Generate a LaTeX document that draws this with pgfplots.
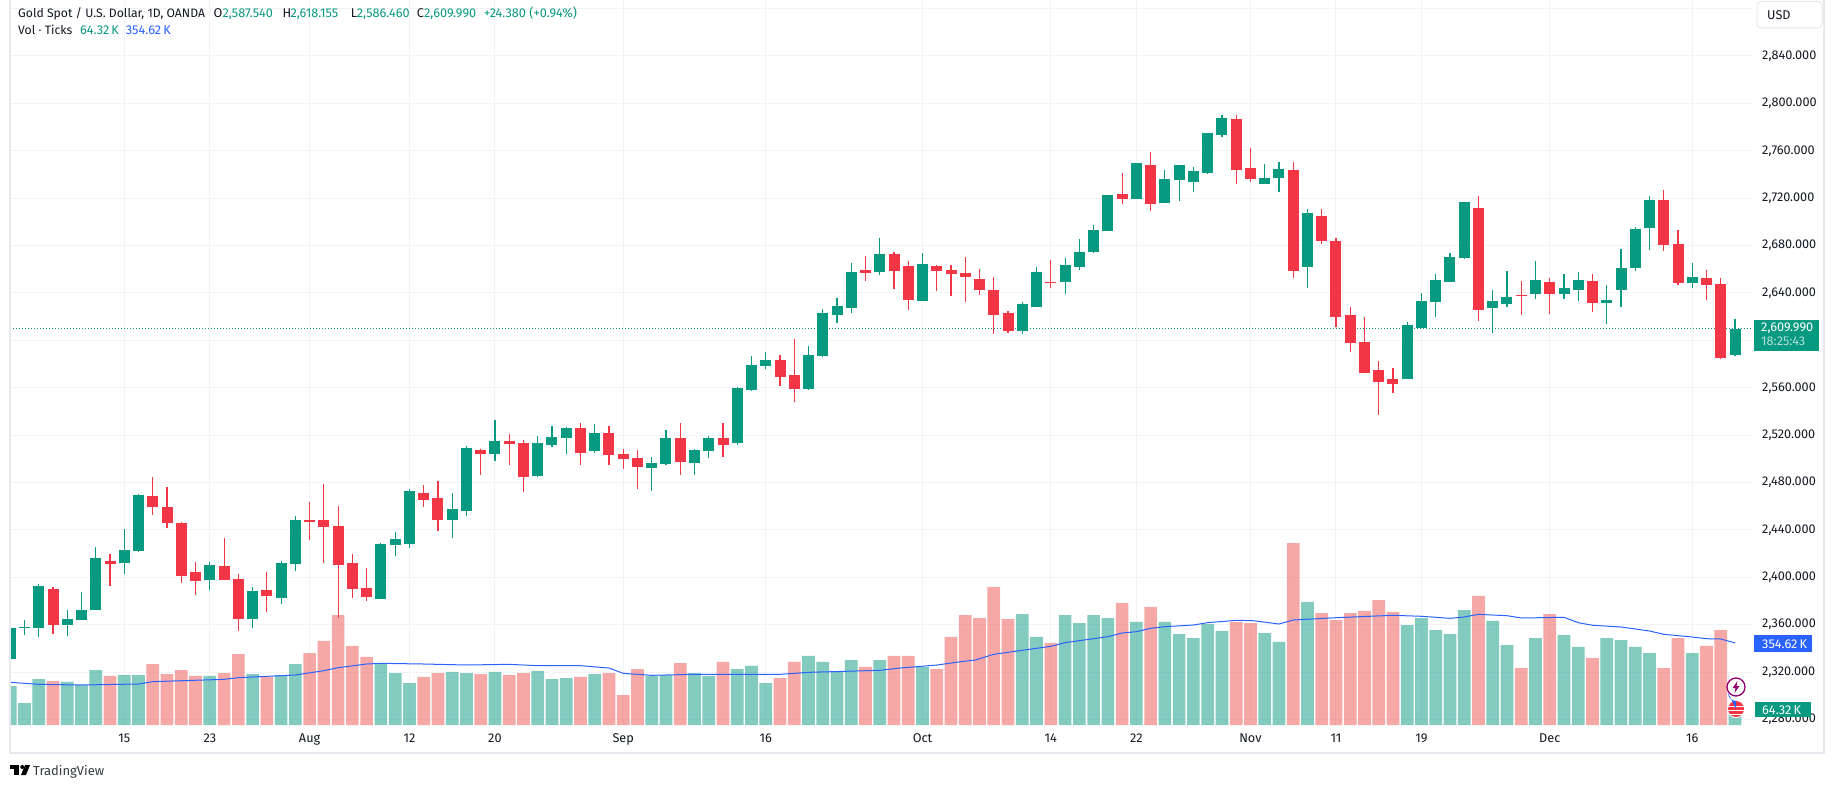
\documentclass[border=0pt]{standalone}
\usepackage{fontspec}
\setmainfont{Fira Sans}
\usepackage{pgfplots}
\usepackage{pgfplotstable}
\pgfplotsset{compat=1.18}

\definecolor{upc}{HTML}{089981}
\definecolor{downc}{HTML}{F23645}
\definecolor{volup}{HTML}{089981}
\definecolor{voldown}{HTML}{EF5350}
\definecolor{gridc}{HTML}{F2F3F5}
\definecolor{framec}{HTML}{E8E9EE}
\definecolor{bluec}{HTML}{2962FF}
\definecolor{textc}{HTML}{131722}

% i open high low close volume(K)
\pgfplotstableread{
i o h l c v
0 2331.1 2366.5 2328.8 2357.2 168.5
1 2357.2 2364.0 2351.3 2358.1 95.0
2 2357.2 2394.4 2349.6 2392.7 198.7
4 2359.8 2372.4 2350.5 2364.8 185.8
5 2364.0 2387.6 2364.0 2372.4 172.8
6 2372.4 2425.6 2372.4 2416.3 237.6
8 2412.1 2440.8 2402.8 2423.1 216.0
9 2422.2 2470.3 2421.4 2469.5 216.0
14 2397.7 2412.9 2389.3 2410.4 211.7
17 2364.8 2391.8 2357.2 2388.5 220.3
19 2382.5 2413.8 2377.5 2412.1 216.0
20 2411.2 2451.8 2405.3 2448.4 263.5
26 2381.7 2429.0 2381.7 2428.1 263.5
27 2427.3 2438.3 2418.0 2432.3 224.6
28 2428.1 2474.5 2424.8 2472.9 181.4
31 2448.4 2471.2 2433.2 2457.7 229.0
32 2456.0 2510.8 2451.8 2509.2 224.6
34 2504.1 2532.8 2498.2 2515.1 229.0
37 2485.5 2519.3 2484.7 2513.4 233.3
38 2511.7 2527.7 2510.0 2518.4 198.7
39 2517.6 2526.9 2504.1 2526.0 203.0
41 2506.6 2529.4 2504.9 2521.8 220.3
45 2492.3 2501.6 2472.9 2496.5 211.7
46 2495.6 2524.4 2494.8 2517.6 216.0
48 2496.5 2508.3 2486.4 2507.5 224.6
49 2506.6 2519.3 2500.7 2517.6 211.7
51 2513.4 2560.6 2511.7 2559.8 241.9
52 2558.1 2586.8 2557.3 2579.2 254.9
53 2578.4 2590.2 2575.8 2583.4 181.4
56 2559.0 2595.2 2558.1 2587.6 298.1
57 2586.8 2626.5 2586.0 2623.1 272.2
58 2621.4 2635.8 2614.7 2629.0 229.0
59 2627.3 2665.3 2623.1 2657.7 280.8
61 2657.7 2686.4 2655.2 2672.9 280.8
64 2633.2 2673.7 2633.2 2664.5 250.6
71 2607.9 2632.4 2605.4 2630.7 479.5
72 2628.2 2661.9 2628.2 2657.7 380.2
74 2649.3 2669.5 2639.1 2663.6 475.2
75 2661.9 2685.6 2659.4 2674.6 440.6
76 2674.6 2697.4 2673.7 2693.2 475.2
77 2692.3 2722.7 2692.3 2722.7 462.2
79 2719.3 2749.7 2719.3 2749.7 445.0
81 2715.9 2743.8 2715.9 2736.2 445.0
82 2735.4 2748.0 2717.6 2748.0 393.1
83 2733.7 2746.3 2725.2 2742.9 375.8
84 2741.3 2775.0 2740.4 2775.0 436.3
85 2773.3 2790.2 2771.6 2787.7 406.1
88 2732.0 2748.9 2732.0 2737.0 397.4
89 2737.0 2750.5 2725.2 2744.6 358.6
91 2661.9 2710.9 2644.2 2707.5 531.4
98 2567.4 2615.5 2567.4 2613.0 432.0
99 2610.4 2640.0 2610.4 2633.2 462.2
100 2632.4 2656.0 2619.7 2651.0 410.4
101 2649.3 2673.7 2649.3 2670.4 393.1
102 2669.5 2716.8 2668.7 2716.8 496.8
104 2627.3 2642.5 2606.2 2633.2 449.3
105 2630.7 2658.5 2628.2 2636.6 345.6
107 2639.1 2667.0 2634.9 2651.0 375.8
109 2639.1 2656.0 2634.9 2644.2 388.8
110 2642.5 2657.7 2633.2 2651.0 337.0
112 2631.5 2646.7 2613.8 2634.1 375.8
113 2642.5 2677.1 2628.2 2661.1 367.2
114 2661.1 2695.7 2658.5 2694.0 337.0
115 2694.8 2721.8 2676.3 2718.5 311.0
118 2648.4 2665.3 2644.2 2653.5 311.0
121 2587.54 2618.155 2586.46 2609.99 64.32
}\upcandles

\pgfplotstableread{
i o h l c v
3 2390.1 2391.8 2352.2 2359.8 190.1
7 2413.8 2419.7 2392.7 2411.2 211.7
10 2468.6 2484.7 2452.6 2459.4 263.5
11 2459.4 2476.2 2441.6 2445.9 220.3
12 2445.9 2446.7 2395.2 2401.1 237.6
13 2404.5 2412.9 2385.1 2396.9 211.7
15 2409.6 2433.2 2397.7 2397.7 224.6
16 2398.6 2402.8 2354.7 2364.8 306.7
18 2389.3 2404.5 2370.7 2384.2 207.4
21 2448.4 2463.6 2431.5 2446.7 311.0
22 2448.4 2478.8 2412.1 2442.5 362.9
23 2443.3 2460.2 2365.7 2410.4 475.2
24 2412.1 2419.7 2382.5 2390.1 341.3
25 2391.0 2407.9 2380.0 2383.4 293.8
29 2471.2 2477.9 2459.4 2465.3 207.4
30 2467.0 2481.3 2439.1 2448.4 224.6
33 2507.5 2508.3 2486.4 2504.1 220.3
35 2515.1 2521.0 2494.8 2512.5 216.0
36 2513.4 2515.9 2472.0 2484.7 224.6
40 2526.0 2530.3 2494.8 2504.9 207.4
42 2521.8 2527.7 2494.8 2503.2 224.6
43 2504.1 2508.3 2491.4 2499.9 129.6
44 2500.7 2507.5 2474.5 2493.1 241.9
47 2517.6 2530.3 2486.4 2497.3 267.8
50 2517.6 2530.3 2501.6 2511.7 272.2
54 2583.4 2587.7 2561.5 2569.1 203.0
55 2570.8 2601.2 2548.0 2559.0 272.2
60 2659.4 2671.2 2650.1 2656.9 250.6
62 2672.9 2674.6 2643.4 2658.5 298.1
63 2662.8 2667.0 2625.6 2634.1 298.1
65 2662.8 2663.6 2641.7 2658.5 241.9
66 2659.4 2663.6 2637.4 2656.0 380.2
67 2656.9 2670.4 2632.4 2653.5 475.2
68 2651.8 2660.2 2638.3 2642.5 462.2
69 2642.5 2653.5 2605.4 2621.4 596.2
70 2623.1 2624.8 2606.2 2607.9 457.9
73 2649.3 2667.8 2644.2 2648.4 354.2
78 2723.5 2741.3 2715.1 2719.3 527.0
80 2748.0 2759.0 2709.2 2715.1 509.8
86 2786.8 2790.2 2732.0 2743.8 445.0
87 2745.5 2762.4 2733.7 2736.2 440.6
90 2743.8 2750.5 2652.6 2658.5 786.2
92 2705.0 2710.9 2681.3 2683.9 483.8
93 2683.9 2686.4 2611.3 2619.7 453.6
94 2621.4 2628.2 2590.2 2597.8 483.8
95 2598.6 2619.7 2572.5 2572.5 492.5
96 2575.0 2582.6 2537.0 2564.9 540.0
97 2567.4 2576.7 2555.6 2563.2 488.2
103 2711.7 2721.8 2616.3 2625.6 557.3
106 2638.3 2650.1 2621.4 2637.4 246.2
108 2649.3 2652.6 2622.3 2639.1 479.5
111 2650.1 2656.0 2623.9 2631.5 289.4
116 2718.5 2726.9 2675.4 2680.5 246.2
117 2681.3 2693.2 2646.7 2648.4 375.8
119 2652.6 2659.4 2634.1 2646.7 341.3
120 2647.6 2652.6 2584.3 2585.1 410.4
}\downcandles

\pgfplotsset{
  chartpane/.style={
    at={(10pt,63pt)}, anchor=south west, scale only axis,
    width=1743pt, height=725pt,
    xmin=-0.02, xmax=122.26,
  },
  pricepane/.style={chartpane, ymin=2275.35, ymax=2887.27},
}
\newcommand{\pxfont}{\fontsize{12.7}{15}\selectfont}
\newcommand{\namefont}{\fontsize{12.2}{15}\selectfont}

\begin{document}
\begin{tikzpicture}
\fill[white] (0,0) rectangle (1835pt,788pt);
\path[use as bounding box] (0,0) rectangle (1835pt,788pt);

% grid and tick labels; 2600 and 2880 sit behind the price tag and the USD button
\begin{axis}[
  pricepane,
  axis line style={draw=none},
  major tick length=0pt,
  grid=major,
  grid style={gridc, line width=1pt},
  xtick={8,14,21,28,34,43,53,64,73,79,87,93,99,108,118},
  xticklabels={15,23,Aug,12,20,Sep,16,Oct,14,22,Nov,11,19,Dec,16},
  xticklabel style={font=\pxfont, text=textc, inner sep=0pt, anchor=north, yshift=-8pt, text height=9pt, text depth=0pt},
  ytick={2280,2320,2360,2400,2440,2480,2520,2560,2640,2680,2720,2760,2800,2840},
  extra y ticks={2600,2880},
  extra y tick labels={},
  extra y tick style={grid=major, grid style={gridc, line width=1pt}},
  yticklabel pos=right,
  yticklabel style={
    font=\pxfont, text=textc, inner sep=0pt, anchor=west, xshift=9pt,
    /pgf/number format/.cd, fixed, fixed zerofill, precision=3, 1000 sep={,}, assume math mode=true
  },
]
\end{axis}

% volume and its moving average
\begin{axis}[chartpane, hide axis, ymin=0, ymax=3132, ybar, bar width=12.7pt, bar shift=0pt]
\addplot[draw=none, fill=volup, fill opacity=0.5] table[x=i, y=v] {\upcandles};
\addplot[draw=none, fill=voldown, fill opacity=0.5] table[x=i, y=v] {\downcandles};
\addplot[sharp plot, bluec, line width=1pt, mark=none, line join=round] coordinates {
(0,184.3) (2,175.7) (5,172.8) (9,177.1) (10,187.2) (15,197.3) (16,204.5) (20,216.0)
(22,234.7) (23,247.7) (25,263.5) (26,266.4) (29,263.5) (32,259.2) (35,262.1) (37,256.3)
(40,256.3) (42,246.2) (43,223.2) (45,214.6) (48,218.9) (54,218.9) (56,227.5) (61,236.2)
(62.4,246.0) (65,259.0) (66.5,272.0) (67.7,280.8) (69,305.4) (71.3,325.4) (73,339.8) (74,355.7)
(77,381.6) (78,397.4) (79,403.2) (80,417.6) (81,424.8) (83,432.0) (84,442.0) (86,452.2)
(87.2,450.6) (89,436.3) (90,453.6) (93,463.5) (97,473.9) (99,469.6) (101,460.9) (102,466.6)
(103,478.0) (105,472.2) (106,462.2) (109,465.3) (110,442.0) (111,430.9) (113,423.4) (115,406.1)
(116,391.8) (118,380.2) (119,372.8) (120,371.5) (121,354.62)
};
\end{axis}

% candles
\begin{axis}[pricepane, hide axis]
\addplot[upc, line width=1pt, dash pattern=on 1pt off 2pt, mark=none] coordinates {(-0.02,2609.99) (122.26,2609.99)};
\addplot[draw=none, mark=none, error bars/y dir=minus, error bars/y explicit, error bars/error mark=none,
  error bars/error bar style={draw=upc, line width=1.2pt}]
  table[x=i, y=h, y error minus expr=\thisrow{h}-\thisrow{l}] {\upcandles};
\addplot[draw=none, mark=none, error bars/y dir=minus, error bars/y explicit, error bars/error mark=none,
  error bars/error bar style={draw=downc, line width=1.2pt}]
  table[x=i, y=h, y error minus expr=\thisrow{h}-\thisrow{l}] {\downcandles};
\addplot[draw=none, mark=none, error bars/y dir=minus, error bars/y explicit, error bars/error mark=none,
  error bars/error bar style={draw=upc, line width=11pt}]
  table[x=i, y=c, y error minus expr=\thisrow{c}-\thisrow{o}] {\upcandles};
\addplot[draw=none, mark=none, error bars/y dir=minus, error bars/y explicit, error bars/error mark=none,
  error bars/error bar style={draw=downc, line width=11pt}]
  table[x=i, y=o, y error minus expr=\thisrow{o}-\thisrow{c}] {\downcandles};
\end{axis}

% page furniture, in image pixels with y downwards
\begin{scope}[x=1pt, y=-1pt, shift={(0pt,788pt)}, every node/.style={inner sep=0pt, anchor=base west, font=\pxfont, text=textc}]
\draw[framec, line width=2pt] (10,0) -- (10,752.5) -- (1824,752.5) -- (1824,0);

\node[font=\namefont] at (18,17.5) {Gold Spot / U.S. Dollar, 1D, OANDA};
\node at (213.3,17.5) {O};
\node[text=upc] at (222.3,17.5) {2,587.540};
\node at (282.3,17.5) {H};
\node[text=upc] at (290.3,17.5) {2,618.155};
\node at (350.7,17.5) {L};
\node[text=upc] at (356.7,17.5) {2,586.460};
\node at (416.7,17.5) {C};
\node[text=upc] at (424,17.5) {2,609.990};
\node[text=upc] at (484,17.5) {+24.380 (+0.94\%)};
\node[font=\namefont] at (18,34.5) {Vol · Ticks};
\node[text=upc] at (80,34.5) {64.32\,K};
\node[text=bluec] at (125.7,34.5) {354.62\,K};

\draw[framec, fill=white, rounded corners=4pt, line width=1pt] (1757,1.5) rectangle (1822,28);
\node at (1767,19.5) {USD};

\fill[upc] (1754,320) rectangle (1819,351);
\node[text=white] at (1761,332) {2,609.990};
\node[text=white, text opacity=0.7] at (1761,346) {18:25:43};
\fill[bluec] (1754,635) rectangle (1812,652);
\node[text=white] at (1762,648) {354.62\,K};
\fill[upc] (1755,702) rectangle (1811,717);
\node[text=white] at (1762,714) {64.32\,K};

% event markers on the time scale
\draw[fill=white, draw=purple!75!blue, line width=1.3pt] (1736,687) circle (9);
\fill[purple!75!blue] (1737.5,681) -- (1732.5,688) -- (1735.5,688) -- (1734.5,693) -- (1739.5,686) -- (1736.5,686) -- cycle;
\draw[fill=white, draw=white, line width=1pt] (1736,709) circle (8.5);
\fill[downc] (1736,709) circle (8);
\fill[white] (1728,705.5) rectangle (1744,707);
\fill[white] (1728,709.5) rectangle (1744,711);
\fill[white] (1729,713.5) rectangle (1743,715);
\fill[bluec] (1736,701) arc (90:180:8) -- (1736,709) -- cycle;

% logo and wordmark
\fill[black] (10,765) rectangle (19,768.5);
\fill[black] (14,765) rectangle (19,775);
\fill[black] (22.2,767) circle (2);
\fill[black] (25,765) -- (30,765) -- (26,775) -- (21,775) -- cycle;
\node[font=\fontsize{13}{15}\selectfont, text=textc!85!white] at (33,775) {TradingView};
\end{scope}
\end{tikzpicture}
\end{document}
